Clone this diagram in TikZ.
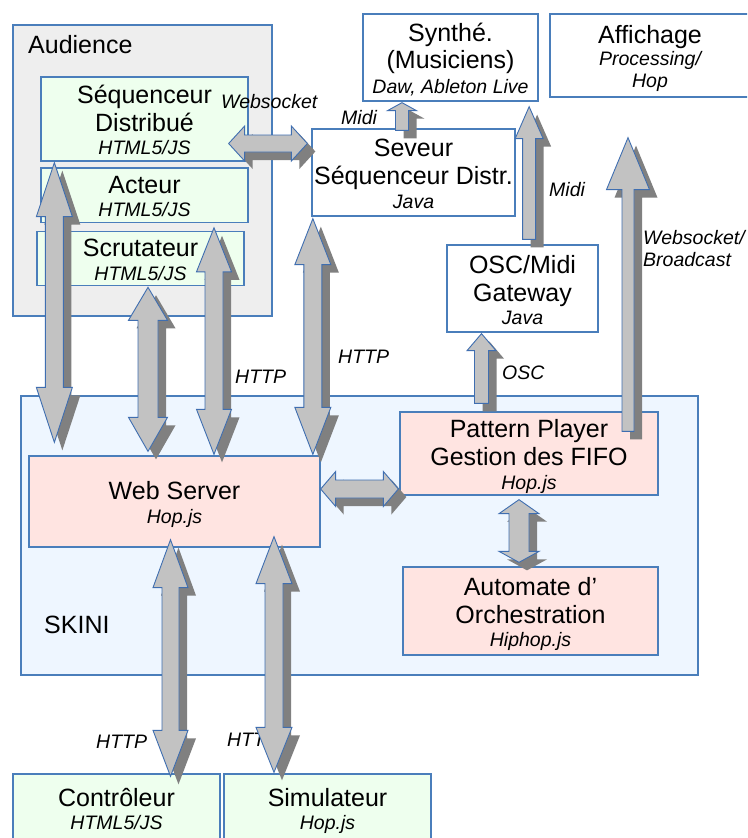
\documentclass[tikz,border=0pt]{standalone}
\usepackage{fontspec}
\setmainfont{Liberation Sans}
\usetikzlibrary{calc}

\definecolor{boxblue}{HTML}{4A7EBB}
\definecolor{arrline}{HTML}{3F6EB0}
\definecolor{arrfill}{HTML}{C2C2C2}
\definecolor{arrshade}{HTML}{808080}
\definecolor{audfill}{HTML}{EEEEEE}
\definecolor{clientfill}{HTML}{EEFFEE}
\definecolor{skinifill}{HTML}{EEF6FF}
\definecolor{corefill}{HTML}{FFE4E1}

\newcommand\mainfs{\fontsize{25}{28}\selectfont}
\newcommand\subfs{\fontsize{19.5}{23}\selectfont\itshape}
% fixed height of the first line and depth of the last line of a box text
\newcommand\topstrut{\rule{0pt}{25.5pt}}
\newcommand\botstrut{\rule[-5.5pt]{0pt}{5.5pt}}

\tikzset{
  box/.style={draw=boxblue, line width=1.3pt, inner sep=0pt, align=center, font=\mainfs},
  lbl/.style={inner sep=0pt, anchor=base west, font=\subfs},
  title/.style={inner sep=0pt, anchor=base west, font=\mainfs},
  arrbody/.style={fill=arrfill, draw=arrline, line width=0.9pt, line join=miter},
  arrshadow/.style={fill=arrshade},
}

% vertical double-headed block arrow outline:
% #1 top tip, #2 bottom tip, #3 half shaft, #4 half head, #5 top head length, #6 bottom head length, #7 offset
\newcommand\vdpath[7]{let \p1=#1, \p2=#2 in
  (\x1+#7,\y1-#7) -- (\x1+#4+#7,\y1-#5-#7) -- (\x1+#3+#7,\y1-#5-#7)
  -- (\x1+#3+#7,\y2+#6-#7) -- (\x1+#4+#7,\y2+#6-#7) -- (\x1+#7,\y2-#7)
  -- (\x1-#4+#7,\y2+#6-#7) -- (\x1-#3+#7,\y2+#6-#7)
  -- (\x1-#3+#7,\y1-#5-#7) -- (\x1-#4+#7,\y1-#5-#7) -- cycle}
\newcommand\vdarrow[6]{%
  \path[arrshadow] \vdpath{#1}{#2}{#3}{#4}{#5}{#6}{8pt};
  \path[arrbody] \vdpath{#1}{#2}{#3}{#4}{#5}{#6}{0pt};}

% upward block arrow with a flat base:
% #1 tip, #2 base, #3 half shaft, #4 half head, #5 head length, #6 offset
\newcommand\uppath[6]{let \p1=#1, \p2=#2 in
  (\x1+#6,\y1-#6) -- (\x1+#4+#6,\y1-#5-#6) -- (\x1+#3+#6,\y1-#5-#6)
  -- (\x1+#3+#6,\y2-#6) -- (\x1-#3+#6,\y2-#6)
  -- (\x1-#3+#6,\y1-#5-#6) -- (\x1-#4+#6,\y1-#5-#6) -- cycle}
\newcommand\uparr[5]{%
  \path[arrshadow] \uppath{#1}{#2}{#3}{#4}{#5}{8pt};
  \path[arrbody] \uppath{#1}{#2}{#3}{#4}{#5}{0pt};}

% horizontal double-headed block arrow:
% #1 left tip, #2 right tip, #3 half shaft, #4 half head, #5 head length, #6 offset
\newcommand\hdpath[6]{let \p1=#1, \p2=#2 in
  (\x1+#6,\y1-#6) -- (\x1+#5+#6,\y1+#4-#6) -- (\x1+#5+#6,\y1+#3-#6)
  -- (\x2-#5+#6,\y1+#3-#6) -- (\x2-#5+#6,\y1+#4-#6) -- (\x2+#6,\y1-#6)
  -- (\x2-#5+#6,\y1-#4-#6) -- (\x2-#5+#6,\y1-#3-#6)
  -- (\x1+#5+#6,\y1-#3-#6) -- (\x1+#5+#6,\y1-#4-#6) -- cycle}
\newcommand\hdarrow[5]{%
  \path[arrshadow] \hdpath{#1}{#2}{#3}{#4}{#5}{8pt};
  \path[arrbody] \hdpath{#1}{#2}{#3}{#4}{#5}{0pt};}

\begin{document}
\begin{tikzpicture}[x=1pt, y=-1pt]
\useasboundingbox (0,0) rectangle (747,838);
\clip (0,0) rectangle (747,838);
\fill[white] (0,0) rectangle (747,838);

% audience side
\node[box, fill=audfill, minimum width=259pt, minimum height=291pt] (aud) at (142.5,170.5) {};
\node[title] (audlbl) at (28,53) {Audience};
\node[box, fill=clientfill, minimum width=207pt, minimum height=84pt] (seq) at (144.5,119)
  {\topstrut Séquenceur\\Distribué\\[-4.7pt]{\subfs HTML5/JS\botstrut}};
\node[box, fill=clientfill, minimum width=207pt, minimum height=52pt] (act) at (144.5,195)
  {\topstrut Acteur\\[-4.7pt]{\subfs HTML5/JS\botstrut}};
\node[box, fill=clientfill, minimum width=207pt, minimum height=51pt] (scr) at (140.5,258.5)
  {\topstrut Scrutateur\\[-4.7pt]{\subfs HTML5/JS\botstrut}};

% external programs
\node[box, fill=white, minimum width=175pt, minimum height=87pt] (syn) at (450.5,57.5)
  {\topstrut Synthé.\\[-1.4pt](Musiciens)\\[-3pt]{\subfs Daw, Ableton Live\botstrut}};
\node[box, fill=white, minimum width=200pt, minimum height=83pt] (aff) at (650,55.5)
  {\topstrut Affichage\\[-6.3pt]{\subfs Processing/}\\[-6pt]{\subfs Hop\botstrut}};
\node[box, fill=white, minimum width=203pt, minimum height=87pt] (srv) at (413.5,172.5)
  {\topstrut Seveur\\Séquenceur Distr.\\[-4.7pt]{\subfs Java\botstrut}};
\node[box, fill=white, minimum width=151pt, minimum height=87pt] (gw) at (522.5,288.5)
  {\topstrut OSC/Midi\\Gateway\\[-5pt]{\subfs Java\botstrut}};

% SKINI core
\node[box, fill=skinifill, minimum width=677pt, minimum height=279pt] (skini) at (359.5,535.5) {};
\node[title] (skinilbl) at (44,633) {SKINI};
\node[box, fill=corefill, minimum width=291pt, minimum height=91pt] (web) at (174.5,501.5)
  {\topstrut Web Server\\[-4.3pt]{\subfs Hop.js\botstrut}};
\node[box, fill=corefill, minimum width=258pt, minimum height=83pt] (pp) at (529,453.5)
  {\topstrut Pattern Player\\Gestion des FIFO\\[-4.7pt]{\subfs Hop.js\botstrut}};
\node[box, fill=corefill, minimum width=255pt, minimum height=88pt] (auto) at (530.5,611)
  {\topstrut Automate d’\\Orchestration\\[-4.7pt]{\subfs Hiphop.js\botstrut}};

% bottom clients
\node[box, fill=clientfill, minimum width=207pt, minimum height=67.5pt] (ctl) at (116.5,807.75)
  {\topstrut Contrôleur\\[-5.4pt]{\subfs HTML5/JS\botstrut}};
\node[box, fill=clientfill, minimum width=207pt, minimum height=67.5pt] (sim) at (327.5,807.75)
  {\topstrut Simulateur\\[-5.4pt]{\subfs Hop.js\botstrut}};

% connector labels
\node[lbl] (lws) at (221,108) {Websocket};
\node[lbl] (lmidia) at (341,124.5) {Midi};
\node[lbl] (lmidib) at (549,196) {Midi};
\node[lbl] (lwsba) at (643,244) {Websocket/};
\node[lbl] (lwsbb) at (643,266) {Broadcast};
\node[lbl] (lhttpa) at (235,383) {HTTP};
\node[lbl] (lhttpb) at (338,363) {HTTP};
\node[lbl] (losc) at (502,379) {OSC};
\node[lbl] (lhttpc) at (96,748) {HTTP};
\node[lbl] (lhttpd) at (227,746) {HTTP};

% block arrows
\vdarrow{($(seq.south west)+(14,1)$)}{($(web.north west)+(26,-13)$)}{9pt}{18pt}{54pt}{55pt}
\vdarrow{($(scr.south)+(7.5,1)$)}{($(web.north west)+(119,-4)$)}{10pt}{19.5pt}{33pt}{34pt}
\vdarrow{($(act.south)+(69.5,5)$)}{($(web.north west)+(185,-1)$)}{9pt}{17.5pt}{44pt}{45pt}
\vdarrow{($(srv.south west)+(1.5,2)$)}{($(web.north east)+(-6.5,-1)$)}{9pt}{18pt}{46pt}{47pt}
\hdarrow{($(seq.east)+(-20,24.5)$)}{($(srv.west)+(-4,-29)$)}{8.5pt}{17.5pt}{16pt}
\uparr{($(syn.south)+(-48.5,1)$)}{($(srv.north)+(-11.5,2)$)}{6.5pt}{14.5pt}{8pt}
\uparr{($(syn.south east)+(-9.5,5)$)}{($(gw.north)+(6,-5)$)}{6.5pt}{14pt}{32pt}
\uparr{($(aff.south)+(-22,40)$)}{($(pp.north east)+(-30,20)$)}{6pt}{21.5pt}{52pt}
\uparr{($(gw.south)+(-41,1)$)}{($(pp.north)+(-47.5,-8)$)}{7pt}{14.5pt}{17pt}
\hdarrow{($(web.east)+(0,-12.5)$)}{($(pp.west)+(-1,35.5)$)}{9pt}{17.5pt}{15pt}
\vdarrow{($(pp.south)+(-10,4)$)}{($(auto.north)+(-11.5,-4)$)}{10pt}{20pt}{14pt}{11pt}
\vdarrow{($(web.south)+(-4,-8)$)}{($(ctl.north)+(54,3)$)}{8.5pt}{17.5pt}{48pt}{46pt}
\vdarrow{($(web.south)+(99.5,-11)$)}{($(sim.north)+(-53.5,-1)$)}{9pt}{18pt}{47pt}{45pt}
\end{tikzpicture}
\end{document}
